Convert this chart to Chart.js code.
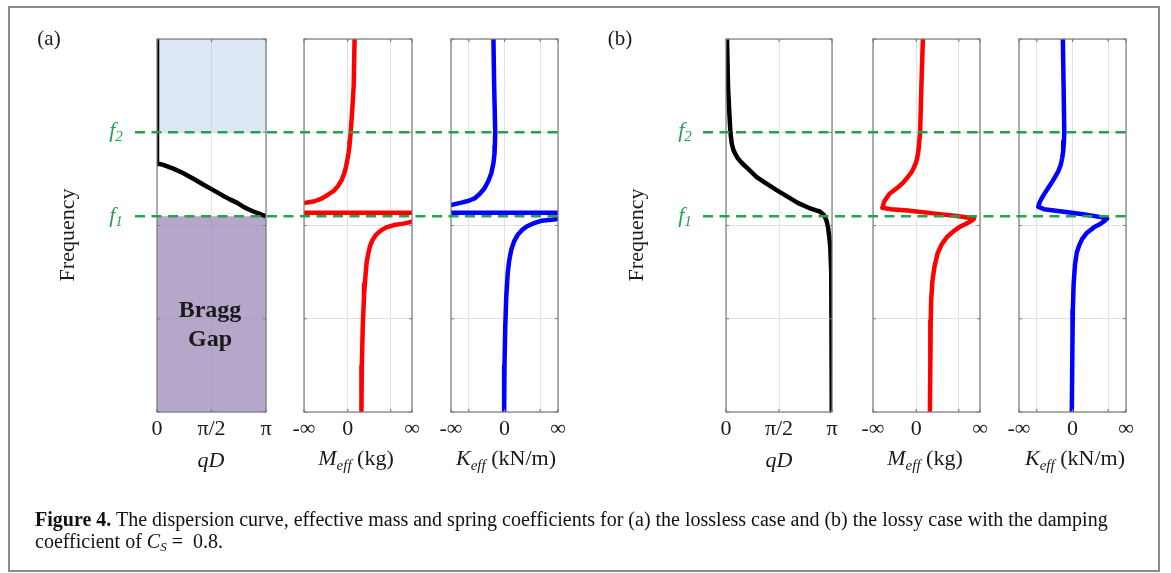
<!DOCTYPE html>
<html>
<head>
<meta charset="utf-8">
<script src="https://cdn.jsdelivr.net/npm/chart.js@4.4.0/dist/chart.umd.min.js"></script>
<style>
  body { margin: 0; background: #fff; width: 1171px; height: 573px; overflow: hidden; position: relative; font-family: 'Liberation Serif', serif; }
  canvas { position: absolute; left: 0; top: 0; }
  #frame { position: absolute; left: 8px; top: 6px; width: 1152px; height: 566px; border: 2px solid #8c8c8c; box-sizing: border-box; }
  .t { position: absolute; white-space: nowrap; color: #1a1a1a; transform: translate(-50%, -50%); line-height: 1; z-index: 5; }
  .panel { font-size: 21px; }
  .fl { font-size: 22px; font-style: italic; color: #22a352; }
  .fl sub { font-size: 15px; vertical-align: -4px; }
  .freq { font-size: 22px; transform: translate(-50%, -50%) rotate(-90deg); }
  .gap { font-size: 24px; font-weight: bold; }
  .ax { font-size: 22px; }
  .ax i sub { font-size: 15px; vertical-align: -5px; }
  #caption { position: absolute; left: 35px; top: 508px; font-size: 20px; line-height: 22px; color: #111; white-space: nowrap; z-index: 5; }
  #caption sub { font-size: 13px; vertical-align: -3px; }
</style>
</head>
<body>
<div id="frame"></div>
<canvas id="dispA" width="1171" height="573"></canvas>
<canvas id="massA" width="1171" height="573"></canvas>
<canvas id="springA" width="1171" height="573"></canvas>
<canvas id="dispB" width="1171" height="573"></canvas>
<canvas id="massB" width="1171" height="573"></canvas>
<canvas id="springB" width="1171" height="573"></canvas>

<div class="t panel" style="left:49px;top:38px">(a)</div>
<div class="t panel" style="left:620px;top:38px">(b)</div>
<div class="t fl" style="left:116px;top:131px">f<sub>2</sub></div>
<div class="t fl" style="left:116px;top:216px">f<sub>1</sub></div>
<div class="t fl" style="left:685px;top:131px">f<sub>2</sub></div>
<div class="t fl" style="left:685px;top:216px">f<sub>1</sub></div>
<div class="t freq" style="left:67px;top:235px">Frequency</div>
<div class="t freq" style="left:636px;top:235px">Frequency</div>
<div class="t gap" style="left:210px;top:309px">Bragg</div>
<div class="t gap" style="left:210px;top:338px">Gap</div>
<div class="t ax" style="left:211px;top:460px"><i>qD</i></div>
<div class="t ax" style="left:356px;top:460px"><i>M<sub>eff</sub></i> (kg)</div>
<div class="t ax" style="left:506px;top:460px"><i>K<sub>eff</sub></i> (kN/m)</div>
<div class="t ax" style="left:779px;top:460px"><i>qD</i></div>
<div class="t ax" style="left:925px;top:460px"><i>M<sub>eff</sub></i> (kg)</div>
<div class="t ax" style="left:1075px;top:460px"><i>K<sub>eff</sub></i> (kN/m)</div>
<div id="caption"><b>Figure 4.</b> The dispersion curve, effective mass and spring coefficients for (a) the lossless case and (b) the lossy case with the damping<br>coefficient of <i>C<sub>S</sub></i> = &nbsp;0.8.</div>

<script>
/*
 * Data
**/
// shared frequency axis and the two band edges
const freqMin = 0
const freqMax = 4
const f1 = 2.10
const f2 = 3.0

// x tick positions and labels
const qdTickValues = [0, Math.PI / 2, Math.PI]
const qdTickLabels = ['0', 'π/2', 'π']
const massTickValues = [-1.02, 0, 1, 1.5]
const massTickLabels = ['-∞', '0', '', '∞']
const springTickValues = [-1.5, -1, 0, 1, 1.5]
const springTickLabels = ['-∞', '', '0', '', '∞']

// (a) lossless case
const dispA_qd = [0, 0, 0.08, 0.18, 0.47, 0.76, 1.10, 1.33, 1.57, 1.90, 2.10, 2.30, 2.45, 2.60, 2.78, 2.92, 3.06, 3.1416, 3.1416]
const dispA_f = [4.0, 2.66, 2.66, 2.65, 2.61, 2.56, 2.49, 2.44, 2.39, 2.32, 2.28, 2.245, 2.21, 2.18, 2.15, 2.13, 2.11, 2.10, 0]

const massA_val = [0.16, 0.14, 0.10, 0.07, 0.05, 0.04, 0.02, -0.01, -0.04, -0.08, -0.14, -0.23, -0.33, -0.46, -0.60, -0.77, -1.02, -1.5,
  -1.5, 2.0, 2.0,
  1.5, 1.3, 1.08, 0.90, 0.77, 0.66, 0.58, 0.52, 0.48, 0.44, 0.42, 0.40, 0.38, 0.35, 0.33, 0.32]
const massA_f = [4.0, 3.5, 3.2, 3.0, 2.9, 2.85, 2.78, 2.70, 2.63, 2.56, 2.49, 2.42, 2.37, 2.33, 2.29, 2.26, 2.24, 2.22,
  2.137, 2.137, 2.045,
  2.04, 2.02, 2.005, 1.98, 1.945, 1.90, 1.845, 1.78, 1.70, 1.60, 1.49, 1.37, 1.24, 0.9, 0.5, 0]

const springA_val = [-0.31, -0.29, -0.26, -0.27, -0.28, -0.31, -0.37, -0.45, -0.56, -0.69, -0.84, -1.0, -1.21, -1.5, -2.0,
  -2.0, 2.0, 2.0,
  1.5, 1.25, 1.03, 0.83, 0.65, 0.50, 0.37, 0.27, 0.19, 0.13, 0.09, 0.05, 0.02, 0.0, -0.01]
const springA_f = [4.0, 3.5, 3.0, 2.85, 2.77, 2.67, 2.56, 2.48, 2.40, 2.34, 2.29, 2.265, 2.245, 2.22, 2.2,
  2.137, 2.137, 2.075,
  2.07, 2.06, 2.05, 2.025, 1.995, 1.955, 1.90, 1.83, 1.74, 1.62, 1.49, 1.24, 0.9, 0.5, 0]

// (b) lossy case, Cs = 0.8
const dispB_qd = [0.03, 0.06, 0.10, 0.13, 0.17, 0.22, 0.27, 0.35, 0.47, 0.68, 0.91, 1.20, 1.50, 1.82, 2.14, 2.45, 2.65, 2.78, 2.88, 2.93, 2.98, 3.02, 3.06, 3.09, 3.12, 3.13, 3.14]
const dispB_f = [4.0, 3.49, 3.2, 3.0, 2.88, 2.81, 2.77, 2.72, 2.67, 2.60, 2.52, 2.45, 2.38, 2.31, 2.24, 2.19, 2.165, 2.15, 2.12, 2.095, 2.05, 1.99, 1.88, 1.77, 1.5, 1.3, 0]

const massB_val = [0.155, 0.12, 0.09, 0.07, 0.05, 0.02, -0.01, -0.10, -0.20, -0.31, -0.43, -0.53, -0.63, -0.71, -0.76, -0.80,
  -0.60, -0.20, 0.40, 1.00, 1.36,
  1.30, 1.18, 1.04, 0.88, 0.73, 0.60, 0.50, 0.43, 0.38, 0.35, 0.34, 0.33, 0.32]
const massB_f = [4.0, 3.5, 3.0, 2.9, 2.8, 2.72, 2.67, 2.58, 2.52, 2.46, 2.41, 2.375, 2.34, 2.29, 2.25, 2.19,
  2.175, 2.16, 2.13, 2.10, 2.075,
  2.05, 2.02, 1.99, 1.94, 1.88, 1.80, 1.70, 1.56, 1.41, 1.2, 0.98, 0.5, 0]

const springB_val = [-0.27, -0.25, -0.23, -0.24, -0.26, -0.29, -0.33, -0.40, -0.49, -0.60, -0.72, -0.82, -0.88, -0.93, -0.96,
  -0.80, -0.30, 0.30, 0.80, 0.97,
  0.90, 0.75, 0.60, 0.40, 0.28, 0.20, 0.12, 0.07, 0.03, 0.01, 0.0, -0.02]
const springB_f = [4.0, 3.5, 3.0, 2.9, 2.8, 2.72, 2.65, 2.58, 2.52, 2.45, 2.38, 2.32, 2.28, 2.24, 2.20,
  2.175, 2.15, 2.12, 2.09, 2.075,
  2.05, 2.01, 1.98, 1.92, 1.86, 1.80, 1.71, 1.58, 1.36, 1.1, 0.8, 0]

/*
 * Styling helpers
**/
const tickFont = { family: 'Liberation Serif', size: 22 }
const gridColor = '#e3e3e3'
const fGreen = '#22a352'
const xAxisHeight = 40

const toPoints = (xs, ys) => xs.map((x, i) => ({ x: x, y: ys[i] }))

function curve(xs, ys, color) {
  return {
    data: toPoints(xs, ys),
    showLine: true,
    borderColor: color,
    borderWidth: 4.5,
    borderJoinStyle: 'round',
    pointRadius: 0,
    tension: 0,
    fill: false
  }
}

// box around the plot area, with small inward tick marks like the original
const boxPlugin = {
  id: 'panelBox',
  afterDatasetsDraw(chart) {
    const { ctx, chartArea: a, scales } = chart
    ctx.save()
    ctx.strokeStyle = '#7d7d7d'
    ctx.lineWidth = 1.2
    ctx.strokeRect(a.left, a.top, a.right - a.left, a.bottom - a.top)
    ctx.beginPath()
    scales.y.ticks.forEach((t) => {
      const py = scales.y.getPixelForValue(t.value)
      ctx.moveTo(a.left, py); ctx.lineTo(a.left + 3, py)
      ctx.moveTo(a.right, py); ctx.lineTo(a.right - 3, py)
    })
    scales.x.ticks.forEach((t) => {
      const px = scales.x.getPixelForValue(t.value)
      ctx.moveTo(px, a.top); ctx.lineTo(px, a.top + 3)
      ctx.moveTo(px, a.bottom); ctx.lineTo(px, a.bottom - 3)
    })
    ctx.stroke()
    ctx.restore()
  }
}

// green dashed f1 / f2 lines across a whole group of panels
function bandLines(startX) {
  return {
    id: 'bandLines',
    afterDraw(chart) {
      const { ctx, chartArea, scales } = chart
      ctx.save()
      ctx.strokeStyle = fGreen
      ctx.lineWidth = 2.5
      ctx.setLineDash([10, 6.5]);
      [f1, f2].forEach((f) => {
        const py = scales.y.getPixelForValue(f)
        ctx.beginPath()
        ctx.moveTo(startX, py)
        ctx.lineTo(chartArea.right, py)
        ctx.stroke()
      })
      ctx.restore()
    }
  }
}

function makePanel(id, box, xRange, tickValues, tickLabels, datasets, extraPlugins) {
  return new Chart(document.getElementById(id), {
    type: 'scatter',
    data: { datasets: datasets },
    options: {
      responsive: false,
      animation: false,
      events: [],
      layout: { padding: { left: box.left, right: 1171 - box.right, top: box.top, bottom: 573 - box.bottom - xAxisHeight } },
      plugins: { legend: { display: false }, tooltip: { enabled: false } },
      scales: {
        x: {
          type: 'linear',
          min: xRange[0],
          max: xRange[1],
          afterBuildTicks: (s) => { s.ticks = tickValues.map((v) => ({ value: v })) },
          afterFit: (s) => { s.height = xAxisHeight; s.paddingLeft = 0; s.paddingRight = 0 },
          grid: { color: gridColor, drawTicks: false },
          border: { display: false },
          ticks: {
            autoSkip: false, maxRotation: 0, padding: 4, color: '#1a1a1a', font: tickFont,
            callback: (v, i) => tickLabels[i]
          }
        },
        y: {
          type: 'linear',
          min: freqMin,
          max: freqMax,
          afterFit: (s) => { s.width = 0; s.paddingTop = 0; s.paddingBottom = 0 },
          ticks: { display: false, stepSize: 1 },
          grid: { color: gridColor, drawTicks: false },
          border: { display: false }
        }
      }
    },
    plugins: [boxPlugin].concat(extraPlugins || [])
  })
}

/*
 * Main block
**/
const plotTop = 39
const plotBottom = 412
const qdRange = [0, Math.PI]
const massRange = [massTickValues[0], massTickValues[massTickValues.length - 1]]
const springRange = [springTickValues[0], springTickValues[springTickValues.length - 1]]
const boxAt = (left, right) => ({ left: left, right: right, top: plotTop, bottom: plotBottom })

// (a) dispersion with band shading
makePanel('dispA', boxAt(157, 266), qdRange, qdTickValues, qdTickLabels, [
  curve(dispA_qd, dispA_f, '#000000'),
  { data: toPoints(qdRange, [f1, f1]), showLine: true, borderWidth: 0, pointRadius: 0, fill: 'start', backgroundColor: 'rgba(150,128,180,0.7)' },
  { data: toPoints(qdRange, [f2, f2]), showLine: true, borderWidth: 0, pointRadius: 0, fill: 'end', backgroundColor: 'rgba(160,185,222,0.36)' }
])
makePanel('massA', boxAt(304, 412), massRange, massTickValues, massTickLabels, [
  curve(massA_val, massA_f, '#ff0000')
])
makePanel('springA', boxAt(451, 558), springRange, springTickValues, springTickLabels, [
  curve(springA_val, springA_f, '#0000ff')
], [bandLines(135)])

makePanel('dispB', boxAt(726, 832), qdRange, qdTickValues, qdTickLabels, [
  curve(dispB_qd, dispB_f, '#000000')
])
makePanel('massB', boxAt(873, 980), massRange, massTickValues, massTickLabels, [
  curve(massB_val, massB_f, '#ff0000')
])
makePanel('springB', boxAt(1019, 1126), springRange, springTickValues, springTickLabels, [
  curve(springB_val, springB_f, '#0000ff')
], [bandLines(703)])
</script>
</body>
</html>
